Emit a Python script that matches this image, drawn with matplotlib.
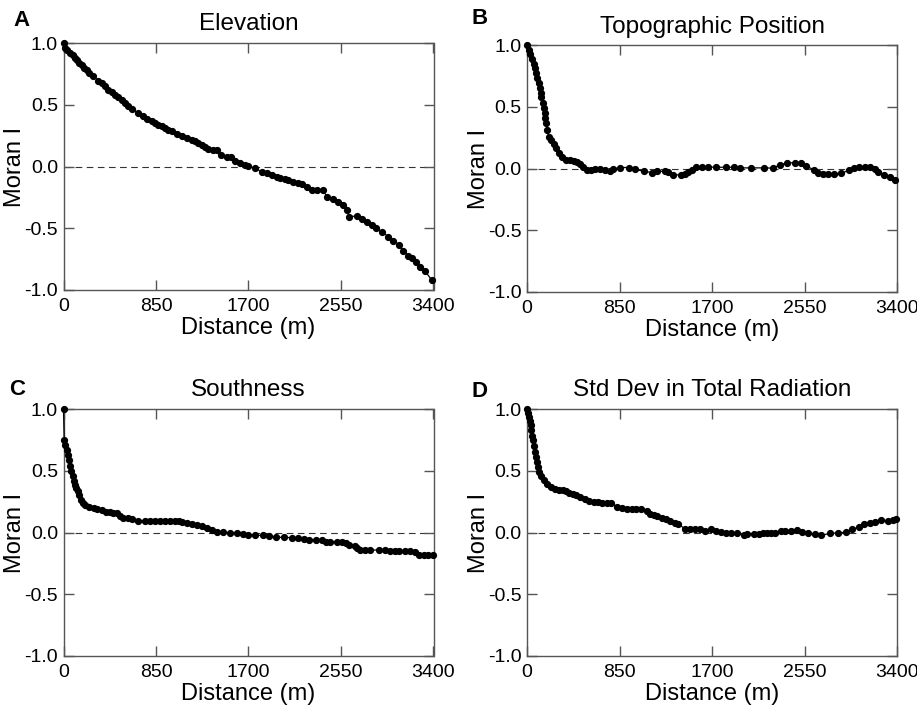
import matplotlib.pyplot as plt

plt.rcParams['font.family'] = ['Liberation Sans', 'DejaVu Sans']

# Panel A - Elevation
dist_a = [0, 14, 35, 60, 84, 106, 127, 145, 167, 188, 213, 237, 274, 320, 351, 381, 412, 443,
          473, 504, 535, 565, 596, 627, 688, 734, 770, 810, 841, 872, 902, 933, 963, 994, 1040,
          1086, 1132, 1178, 1208, 1239, 1270, 1300, 1331, 1371, 1408, 1445, 1500, 1537, 1576,
          1622, 1668, 1699, 1760, 1821, 1867, 1913, 1959, 1990, 2035, 2066, 2112, 2158, 2189,
          2235, 2281, 2327, 2388, 2419, 2480, 2526, 2572, 2603, 2624, 2694, 2741, 2787, 2832,
          2869, 2924, 2985, 3031, 3083, 3123, 3169, 3200, 3237, 3276, 3322, 3384]
moran_a = [1.0, 0.96, 0.94, 0.92, 0.90, 0.88, 0.86, 0.84, 0.82, 0.80, 0.78, 0.76, 0.73, 0.695,
           0.676, 0.65, 0.622, 0.60, 0.58, 0.563, 0.54, 0.514, 0.487, 0.466, 0.433, 0.406,
           0.387, 0.371, 0.352, 0.339, 0.325, 0.312, 0.298, 0.285, 0.263, 0.244, 0.231, 0.217,
           0.204, 0.19, 0.171, 0.155, 0.144, 0.136, 0.131, 0.09, 0.08, 0.074, 0.047, 0.028,
           0.015, 0.005, -0.015, -0.042, -0.05, -0.069, -0.082, -0.096, -0.10, -0.109, -0.128,
           -0.136, -0.144, -0.163, -0.19, -0.19, -0.19, -0.245, -0.267, -0.285, -0.312, -0.352,
           -0.406, -0.401, -0.428, -0.452, -0.474, -0.50, -0.527, -0.567, -0.60, -0.633, -0.684,
           -0.722, -0.738, -0.77, -0.81, -0.846, -0.92]

# Panel B - Topographic Position
dist_b = [0, 15, 31, 46, 61, 70, 83, 92, 107, 116, 125, 132, 144, 153, 162, 168, 177, 187,
          199, 223, 245, 266, 291, 321, 358, 398, 428, 459, 490, 511, 551, 591, 627, 673, 719,
          765, 786, 857, 933, 994, 1071, 1148, 1193, 1264, 1300, 1346, 1417, 1454, 1484, 1515,
          1551, 1607, 1662, 1741, 1833, 1904, 1956, 2056, 2179, 2261, 2323, 2393, 2460, 2521,
          2568, 2638, 2675, 2720, 2766, 2821, 2889, 2956, 3005, 3048, 3103, 3149, 3195, 3226,
          3281, 3333, 3385]
moran_b = [1.0, 0.96, 0.93, 0.89, 0.85, 0.81, 0.77, 0.73, 0.69, 0.65, 0.61, 0.575, 0.53,
           0.49, 0.45, 0.41, 0.366, 0.31, 0.257, 0.23, 0.195, 0.163, 0.122, 0.095, 0.068,
           0.068, 0.06, 0.049, 0.033, 0.014, -0.014, -0.014, 0.0, -0.008, -0.014, -0.019,
           -0.005, 0.008, 0.008, -0.008, -0.022, -0.033, -0.022, -0.022, -0.027, -0.049,
           -0.054, -0.041, -0.027, -0.014, 0.014, 0.014, 0.012, 0.01, 0.01, 0.01, 0.005,
           0.005, 0.005, 0.003, 0.03, 0.046, 0.046, 0.046, 0.019, -0.011, -0.035, -0.043,
           -0.043, -0.043, -0.038, -0.016, 0.003, 0.011, 0.011, 0.011, -0.003, -0.03, -0.051,
           -0.065, -0.092]

# Panel C - Southness
dist_c = [0, 6, 18, 31, 40, 52, 61, 70, 83, 92, 104, 116, 132, 147, 162, 178, 193, 230, 276,
          312, 352, 392, 429, 459, 490, 515, 551, 591, 628, 689, 750, 796, 842, 888, 934, 980,
          1026, 1057, 1087, 1133, 1179, 1225, 1271, 1317, 1363, 1409, 1470, 1531, 1593, 1648,
          1700, 1756, 1829, 1891, 1952, 2022, 2099, 2154, 2206, 2258, 2319, 2374, 2411, 2451,
          2512, 2558, 2595, 2626, 2675, 2696, 2727, 2773, 2819, 2896, 2957, 3003, 3042, 3085,
          3140, 3186, 3232, 3263, 3309, 3348, 3391]
moran_c = [1.0, 0.75, 0.71, 0.67, 0.63, 0.59, 0.54, 0.495, 0.455, 0.42, 0.387, 0.36, 0.333,
           0.306, 0.265, 0.238, 0.225, 0.206, 0.198, 0.189, 0.184, 0.17, 0.162, 0.157, 0.157,
           0.135, 0.116, 0.116, 0.108, 0.097, 0.095, 0.095, 0.095, 0.095, 0.095, 0.095, 0.095,
           0.095, 0.087, 0.076, 0.068, 0.062, 0.049, 0.035, 0.022, 0.008, 0.002, -0.003,
           -0.008, -0.014, -0.018, -0.023, -0.023, -0.028, -0.039, -0.039, -0.042, -0.047,
           -0.053, -0.058, -0.058, -0.061, -0.074, -0.077, -0.077, -0.08, -0.088, -0.101,
           -0.11, -0.123, -0.142, -0.142, -0.142, -0.142, -0.142, -0.147, -0.147, -0.15, -0.15,
           -0.153, -0.156, -0.183, -0.183, -0.183, -0.183]

# Panel D - Std Dev in Total Radiation
dist_d = [0, 6, 15, 24, 34, 40, 46, 55, 64, 73, 83, 92, 101, 113, 132, 156, 187, 223, 254,
          291, 327, 358, 389, 419, 450, 490, 529, 566, 612, 652, 689, 734, 774, 826, 872, 918,
          964, 1004, 1050, 1102, 1132, 1163, 1193, 1239, 1276, 1316, 1356, 1392, 1454, 1499,
          1545, 1591, 1637, 1689, 1741, 1787, 1833, 1879, 1931, 1995, 2026, 2087, 2130, 2170,
          2209, 2246, 2283, 2332, 2369, 2430, 2485, 2528, 2583, 2644, 2705, 2782, 2858, 2935,
          2989, 3048, 3097, 3149, 3201, 3256, 3317, 3363, 3394]
moran_d = [1.0, 0.97, 0.935, 0.90, 0.867, 0.826, 0.785, 0.745, 0.70, 0.655, 0.61, 0.57, 0.527,
           0.486, 0.46, 0.427, 0.39, 0.372, 0.356, 0.345, 0.345, 0.337, 0.323, 0.31, 0.304,
           0.29, 0.274, 0.255, 0.25, 0.247, 0.242, 0.242, 0.242, 0.21, 0.20, 0.193, 0.188,
           0.188, 0.188, 0.174, 0.152, 0.139, 0.133, 0.12, 0.106, 0.092, 0.079, 0.065, 0.03,
           0.03, 0.03, 0.03, 0.016, 0.026, 0.015, 0.007, -0.002, -0.002, -0.002, -0.018,
           -0.013, -0.01, -0.01, -0.007, -0.007, -0.007, -0.007, 0.01, 0.01, 0.01, 0.017,
           0.004, -0.007, -0.01, -0.023, -0.007, -0.004, 0.004, 0.028, 0.042, 0.072, 0.077,
           0.085, 0.099, 0.096, 0.101, 0.107]

# (letter, title, x, y, axes left/bottom in px, letter position in px from top-left)
panels = [
    ("A", "Elevation", dist_a, moran_a, (63.5, 425), (13, 20)),
    ("B", "Topographic Position", dist_b, moran_b, (527, 423), (471, 19)),
    ("C", "Southness", dist_c, moran_c, (63.5, 59), (9, 390)),
    ("D", "Std Dev in Total Radiation", dist_d, moran_d, (527, 59), (471, 391)),
]

W, H = 917, 715
fig = plt.figure(figsize=(W / 100, H / 100), dpi=100)

for letter, title, d, m, pos, lpos in panels:
    ax = fig.add_axes([pos[0] / W, pos[1] / H, 370 / W, 247 / H])
    ax.axhline(0, color="#333333", lw=0.8, ls=(0, (6, 4)), zorder=1)
    ax.plot(d, m, "-o", color="black", lw=0.9, ms=4.2, zorder=3, clip_on=False)
    ax.set_xlim(0, 3400)
    ax.set_ylim(-1.0, 1.0)
    ax.set_xticks([0, 850, 1700, 2550, 3400])
    ax.set_yticks([-1.0, -0.5, 0.0, 0.5, 1.0])
    ax.set_yticklabels(["-1.0", "-0.5", "0.0", "0.5", "1.0"])
    ax.tick_params(direction="in", top=True, right=True, length=7, width=1,
                   color="#555555", labelsize=14)
    ax.tick_params(axis="x", pad=6)
    ax.tick_params(axis="y", pad=4)
    for sp in ax.spines.values():
        sp.set_color("#555555")
        sp.set_linewidth(1)
    ax.set_xlabel("Distance (m)", fontsize=17)
    ax.xaxis.set_label_coords(0.5, -0.108)
    ax.set_ylabel("Moran I", fontsize=17)
    ax.yaxis.set_label_coords(-0.1, 0.5)
    ax.set_title(title, fontsize=17.5, pad=9)
    fig.text(lpos[0] / W, 1 - lpos[1] / H, letter, fontsize=16,
             fontweight="bold", ha="left", va="center")

fig.savefig("out.png", dpi=100)
